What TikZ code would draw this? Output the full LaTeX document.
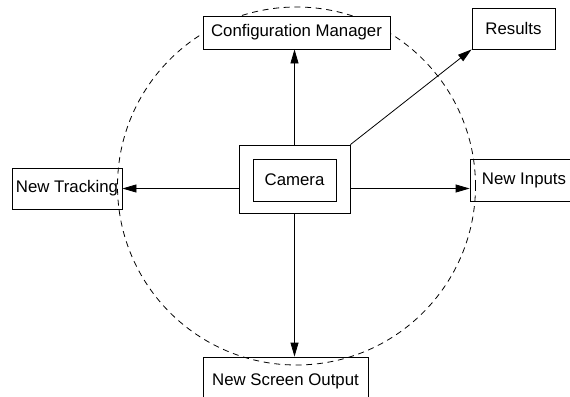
\documentclass[tikz,border=0pt]{standalone}
\usepackage{fontspec}
\setmainfont{Liberation Sans}
\usetikzlibrary{arrows.meta}
\begin{document}
\begin{tikzpicture}[x=0.75pt,y=-0.75pt,
  every node/.style={font=\fontsize{12.6}{14}\selectfont, inner sep=0pt},
  box/.style={draw, line width=0.6pt},
  link/.style={line width=0.6pt, -{Triangle[length=10.5pt,width=6pt]}},
  ring/.style={line width=0.6pt, dash pattern=on 4.5pt off 3.5pt}]
\useasboundingbox (0,0) rectangle (570,396);
% dashed ring around the camera
\draw[ring] (296.5,186) circle [radius=134.25pt];
% boxes
\node[box, fill=white, minimum width=140.25pt, minimum height=24.75pt] (cfg) at (296.5,32.5) {Configuration Manager};
\node[box, minimum width=62.25pt, minimum height=30.75pt] (res) at (513.5,28.5) {Results};
\node[box, minimum width=82.5pt, minimum height=30.75pt] (trk) at (67,188.5) {New Tracking};
\node[box, minimum width=81pt, minimum height=31.5pt] (inp) at (524,180) {New Inputs};
\node[box, minimum width=123.75pt, minimum height=36pt] (scr) at (285.5,381) {New Screen Output};
\node[box, minimum width=83.25pt, minimum height=51pt] (cam) at (294.5,179) {};
\node[box, minimum width=62.25pt, minimum height=31.5pt] (camin) at (294.5,180) {Camera};
% connectors
\draw[link] (cam.north) -- (cam.north |- cfg.south);
\draw[link] (cam.south) -- (cam.south |- scr.north);
\draw[link] (cam.west |- trk.east) -- (trk.east);
\draw[link] (cam.east |- trk.east) -- (inp.west |- trk.east);
\draw[link] (cam.north east) -- (res.south west);
\end{tikzpicture}
\end{document}
